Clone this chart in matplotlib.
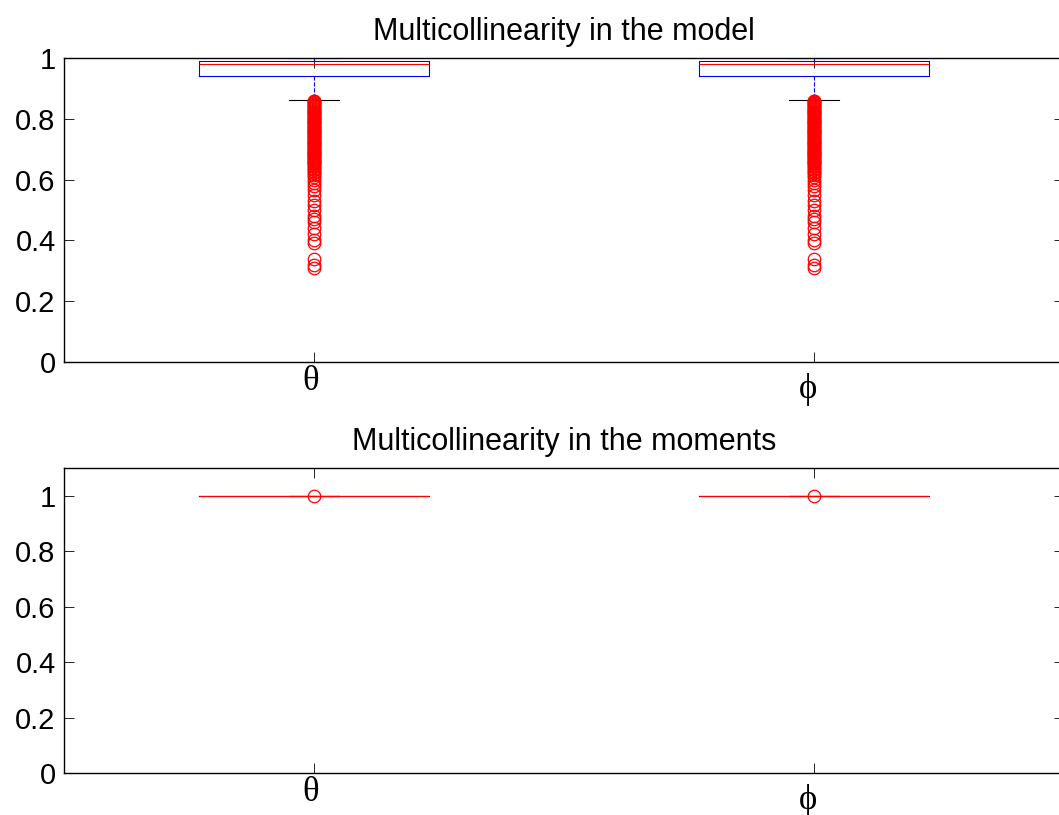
import matplotlib
matplotlib.use("Agg")
import matplotlib.pyplot as plt
import matplotlib.ticker as mticker
from matplotlib.transforms import offset_copy

plt.rcParams["font.family"] = ["Liberation Sans", "DejaVu Sans"]

# data
params = ["θ", "ϕ"]
positions = [1, 2]

# top panel: box stats per parameter (same for both)
model_q1 = 0.941
model_med = 0.981
model_q3 = 0.990
model_whislo = 0.862
model_whishi = 1.0
# dense band of outliers from 0.86 down to 0.60, then sparser ones
model_fliers = [
    0.860, 0.857, 0.854, 0.851, 0.848, 0.845, 0.842, 0.839, 0.836, 0.833,
    0.830, 0.827, 0.824, 0.821, 0.818, 0.815, 0.812, 0.809, 0.806, 0.803,
    0.800, 0.797, 0.794, 0.791, 0.788, 0.785, 0.782, 0.779, 0.776, 0.773,
    0.770, 0.767, 0.764, 0.761, 0.758, 0.755, 0.752, 0.749, 0.746, 0.743,
    0.740, 0.737, 0.734, 0.731, 0.728, 0.725, 0.722, 0.719, 0.716, 0.713,
    0.710, 0.707, 0.704, 0.701, 0.698, 0.695, 0.692, 0.689, 0.686, 0.683,
    0.680, 0.677, 0.674, 0.671, 0.668, 0.665, 0.662, 0.659, 0.656, 0.653,
    0.650, 0.646, 0.641, 0.636, 0.631, 0.626, 0.621, 0.615, 0.608, 0.600,
    0.590, 0.580, 0.566, 0.550, 0.530, 0.516, 0.500, 0.480, 0.470, 0.460,
    0.440, 0.420, 0.400, 0.390, 0.340, 0.320, 0.310]

# bottom panel: everything at 1
moments_value = 1.0
moments_fliers = [1.0]

titles = ["Multicollinearity in the model", "Multicollinearity in the moments"]

W, H = 1059, 815
fig = plt.figure(figsize=(W / 100, H / 100), dpi=100)


def px_axes(left, top, right, bottom):
    return fig.add_axes([left / W, 1 - bottom / H, (right - left) / W,
                         (bottom - top) / H])


def stats_for(q1, med, q3, lo, hi, fliers):
    return [dict(med=med, q1=q1, q3=q3, whislo=lo, whishi=hi, fliers=fliers)
            for _ in params]


ax1 = px_axes(64, 58, 1064, 362)
ax2 = px_axes(64, 468, 1064, 773)

panels = [
    (ax1, stats_for(model_q1, model_med, model_q3, model_whislo,
                    model_whishi, model_fliers), (0, 1)),
    (ax2, stats_for(moments_value, moments_value, moments_value,
                    moments_value, moments_value, moments_fliers), (0, 1.1)),
]
yticks = [0, 0.2, 0.4, 0.6, 0.8, 1]

label_offsets = {"θ": (-3.5, -3), "ϕ": (-6, -11)}

for (ax, stats, ylim), title in zip(panels, titles):
    ax.bxp(stats, positions=positions, widths=0.46, showfliers=True,
           boxprops=dict(color="blue", linewidth=0.8),
           medianprops=dict(color="red", linewidth=0.8, zorder=4),
           whiskerprops=dict(color="blue", linewidth=0.8, linestyle="--"),
           capprops=dict(color="black", linewidth=0.8),
           capwidths=0.1,
           flierprops=dict(marker="o", markersize=9, markerfacecolor="none",
                           markeredgecolor="red", markeredgewidth=0.9,
                           linestyle="none"))
    ax.set_xlim(0.5, 2.5)
    ax.set_ylim(*ylim)
    ax.set_yticks(yticks)
    ax.yaxis.set_major_formatter(mticker.FormatStrFormatter("%g"))
    ax.set_xticks(positions)
    ax.set_xticklabels([])
    ax.tick_params(direction="in", top=True, right=True, length=7,
                   width=0.6, labelsize=21, pad=6)
    for sp in ax.spines.values():
        sp.set_linewidth(1.0)
    ax.set_title(title, fontsize=22, pad=13)
    for x, lab in zip(positions, params):
        dx, dy = label_offsets[lab]
        tr = offset_copy(ax.get_xaxis_transform(), fig=fig, x=dx, y=dy,
                         units="dots")
        ax.text(x, 0, lab, transform=tr, ha="center", va="top",
                fontsize=25, family=["Liberation Serif", "DejaVu Serif"])

fig.savefig("out.png", dpi=100)
